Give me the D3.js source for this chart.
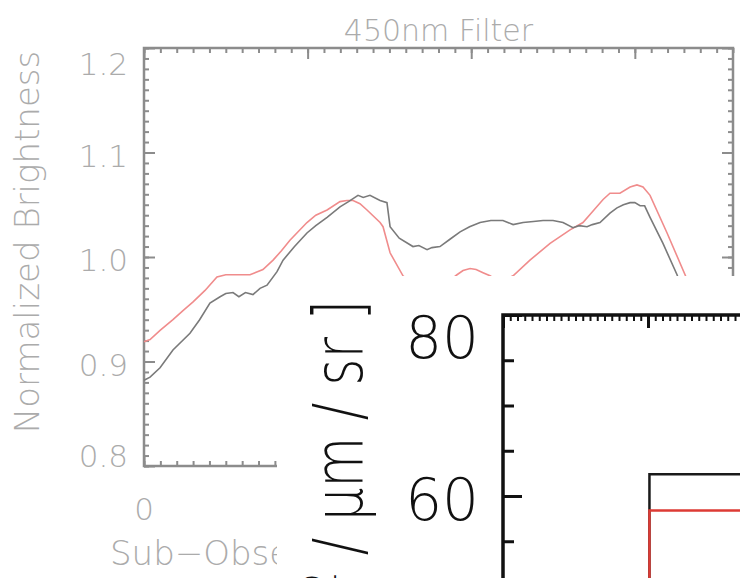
<!DOCTYPE html>
<html><head><meta charset="utf-8">
<script src="https://cdn.jsdelivr.net/npm/d3@7"></script>
<style>body{margin:0;background:#fff}svg{display:block}</style>
</head><body>
<script>
// ---- back chart data (450nm filter) ----
const grayLon = [0,3.7,9.8,17.7,28.1,34,40.3,46.5,50,54.4,58,62,66.6,70.9,75.2,81.3,85,92,99.6,105,111.9,119.8,125,130.8,134,138.1,144.3,148.5,150.4,156,164.4,168,173,176,180.9,187,193.2,199,205.4,212,219.4,225.6,231.7,238,243.9,250,256.1,262.2,266,270.8,274,278.7,284.8,289.1,293,297.1,300,303.2,306,309.3,317.2,325.8,333.7,345];
const grayVal = [0.882,0.885,0.894,0.911,0.927,0.940,0.956,0.962,0.965,0.966,0.962,0.966,0.964,0.970,0.973,0.986,0.997,1.010,1.023,1.030,1.038,1.048,1.053,1.059,1.057,1.059,1.054,1.052,1.029,1.018,1.010,1.011,1.007,1.009,1.010,1.017,1.024,1.029,1.033,1.035,1.035,1.031,1.033,1.034,1.035,1.035,1.033,1.028,1.030,1.029,1.031,1.033,1.042,1.047,1.050,1.052,1.052,1.049,1.049,1.038,1.013,0.983,0.949,0.90];
const redLon = [0,3.7,10,17.7,24,30,37.3,44.6,50,54.4,60,64.8,72.7,78.9,84,89.2,99.6,105,111.9,119.8,124,127.8,132,136.3,144.3,146.1,150.4,158.3,174.8,191.3,195,199.3,203,207.2,211.5,217.6,225.6,235.9,248.2,260.4,268.3,275,280.6,284.8,290.9,297.1,301.3,305,309.3,319.7,330.7,339.9,350];
const redVal = [0.919,0.921,0.930,0.940,0.949,0.957,0.968,0.981,0.983,0.983,0.983,0.983,0.988,0.997,1.006,1.016,1.033,1.040,1.045,1.053,1.054,1.054,1.051,1.045,1.033,1.029,1.004,0.982,0.962,0.983,0.987,0.989,0.988,0.985,0.982,0.976,0.982,0.997,1.013,1.026,1.033,1.045,1.055,1.061,1.061,1.067,1.069,1.067,1.059,1.023,0.983,0.949,0.90];
const yTickVals = [0.8,0.9,1.0,1.1,1.2];
const yTickLabels = ["0.8","0.9","1.0","1.1","1.2"];
const xTickVals = [0];
const xTickLabels = ["0"];
const xMajor = [0,100,200,300];

// ---- inset data ----
const insetYTicks = [60,80];
const insetYLabels = ["60","80"];
const insetXMajor = [0,1,2];
const insetEdge = 1.01;
const insetBlackLevel = 62.4;
const insetRedLevel = 58.4;

const W = 740, H = 578;
const svg = d3.select("body").append("svg").attr("width",W).attr("height",H);
const FONT = "'DejaVu Sans', sans-serif";

// ===== back chart =====
const L = 144, R = 733, T = 48, B = 466;
const x = d3.scaleLinear([0,360],[L,R]);
const y = d3.scaleLinear([0.8,1.2],[B,T]);
const axisCol = "#8c8c8c", textCol = "#ababab";

const back = svg.append("g");
function styleAxis(g){ g.select(".domain").remove(); g.selectAll("line").attr("stroke",axisCol).attr("stroke-width",2); g.selectAll("text").remove(); }
const yMinor = d3.range(0,41).map(i=>0.8+i*0.01);
const xMinor = d3.range(0,37).map(i=>i*10);
back.append("g").attr("transform",`translate(${L},0)`).call(d3.axisLeft(y).tickValues(yMinor).tickSize(-5)).call(styleAxis);
back.append("g").attr("transform",`translate(${L},0)`).call(d3.axisLeft(y).tickValues(yTickVals).tickSize(-11)).call(styleAxis);
back.append("g").attr("transform",`translate(${R},0)`).call(d3.axisRight(y).tickValues(yMinor).tickSize(-5)).call(styleAxis);
back.append("g").attr("transform",`translate(${R},0)`).call(d3.axisRight(y).tickValues(yTickVals).tickSize(-11)).call(styleAxis);
back.append("g").attr("transform",`translate(0,${T})`).call(d3.axisTop(x).tickValues(xMinor).tickSize(-5)).call(styleAxis);
back.append("g").attr("transform",`translate(0,${T})`).call(d3.axisTop(x).tickValues(xMajor).tickSize(-11)).call(styleAxis);
back.append("g").attr("transform",`translate(0,${B})`).call(d3.axisBottom(x).tickValues(xMinor).tickSize(-5)).call(styleAxis);
back.append("g").attr("transform",`translate(0,${B})`).call(d3.axisBottom(x).tickValues(xMajor).tickSize(-11)).call(styleAxis);
back.append("rect").attr("x",L).attr("y",T).attr("width",R-L).attr("height",B-T)
  .attr("fill","none").attr("stroke",axisCol).attr("stroke-width",2.5);

const line = d3.line().x(d=>x(d[0])).y(d=>y(d[1]));
back.append("path").datum(redLon.map((v,i)=>[v,redVal[i]])).attr("d",line)
  .attr("fill","none").attr("stroke","#f08c8c").attr("stroke-width",1.6);
back.append("path").datum(grayLon.map((v,i)=>[v,grayVal[i]])).attr("d",line)
  .attr("fill","none").attr("stroke","#7a7a7a").attr("stroke-width",1.6);

back.selectAll("text.yl").data(yTickVals).join("text").attr("class","yl")
  .attr("x",128).attr("y",d=>Math.max(T+27,Math.min(B+1,y(d)+14)))
  .attr("text-anchor","end").attr("font-family",FONT).attr("font-weight",200)
  .attr("font-size",31).attr("fill",textCol).text((d,i)=>yTickLabels[i]);
back.selectAll("text.xl").data(xTickVals).join("text").attr("class","xl")
  .attr("x",d=>x(d)).attr("y",520).attr("text-anchor","middle").attr("font-family",FONT)
  .attr("font-weight",200).attr("font-size",31).attr("fill",textCol).text((d,i)=>xTickLabels[i]);
back.append("text").attr("x",(L+R)/2).attr("y",41).attr("text-anchor","middle")
  .attr("font-family",FONT).attr("font-weight",200).attr("font-size",30).attr("fill",textCol).text("450nm Filter");
back.append("text").attr("transform","translate(39,242) rotate(-90)").attr("text-anchor","middle")
  .attr("font-family",FONT).attr("font-weight",200).attr("font-size",34).attr("fill",textCol).text("Normalized Brightness");
back.append("text").attr("x",110).attr("y",565).attr("font-family",FONT).attr("font-weight",200)
  .attr("font-size",34).attr("fill",textCol).text("Sub\u2212Observer Longitude [degrees]");

// ===== inset =====
const IL = 503, IT = 315, IR = 760, IB = 578;
const inset = svg.append("g");
inset.append("rect").attr("x",277).attr("y",276).attr("width",W-277).attr("height",H-276).attr("fill","#fff");
const iy = d3.scaleLinear([80, 80-(IB-IT)/9.05],[IT,IB]);
const ix = d3.scaleLinear([0,1],[IL,648]);
function styleI(g){ g.select(".domain").remove(); g.selectAll("line").attr("stroke","#111").attr("stroke-width",3); g.selectAll("text").remove(); }
const iyMinor = d3.range(50,81,5);
const ixMinor = d3.range(0,41).map(i=>i*0.05);
inset.append("g").attr("transform",`translate(${IL},0)`).call(d3.axisLeft(iy).tickValues(iyMinor).tickSize(-11)).call(styleI);
inset.append("g").attr("transform",`translate(${IL},0)`).call(d3.axisLeft(iy).tickValues(insetYTicks).tickSize(-19)).call(styleI);
inset.append("g").attr("transform",`translate(0,${IT})`).call(d3.axisTop(ix).tickValues(ixMinor).tickSize(-6)).call(g=>{styleI(g);g.selectAll("line").attr("stroke-width",2);});
inset.append("g").attr("transform",`translate(0,${IT})`).call(d3.axisTop(ix).tickValues(insetXMajor).tickSize(-13)).call(styleI);
inset.append("path").attr("d",`M${IL},${IB}V${IT}H${IR}`).attr("fill","none").attr("stroke","#111").attr("stroke-width",3.5);

const iline = d3.line().x(d=>ix(d[0])).y(d=>iy(d[1]));
const yLow = iy.domain()[1];
inset.append("path").datum([[insetEdge,yLow],[insetEdge,insetBlackLevel],[2,insetBlackLevel]]).attr("d",iline)
  .attr("fill","none").attr("stroke","#1a1a1a").attr("stroke-width",2.5);
inset.append("path").datum([[insetEdge,yLow],[insetEdge,insetRedLevel],[2,insetRedLevel]]).attr("d",iline)
  .attr("fill","none").attr("stroke","#dd3b35").attr("stroke-width",2.5);

inset.selectAll("text.iyl").data(insetYTicks).join("text").attr("class","iyl")
  .attr("x",479).attr("y",d=>Math.max(IT+43,iy(d)+24)).attr("text-anchor","end")
  .attr("font-family",FONT).attr("font-weight",200).attr("font-size",58).attr("fill","#111")
  .text((d,i)=>insetYLabels[i]);
const lab = inset.append("text").attr("transform","translate(362,300) rotate(-90) scale(0.77,1)").attr("text-anchor","end")
  .attr("font-family",FONT).attr("font-weight",200).attr("font-size",68).attr("fill","#111");
lab.append("tspan").text("Radiance [W/m");
lab.append("tspan").attr("font-size",44).attr("dy",-26).text("2");
lab.append("tspan").attr("dy",26).text(" / \u03bcm / sr ]");
</script>
</body></html>
